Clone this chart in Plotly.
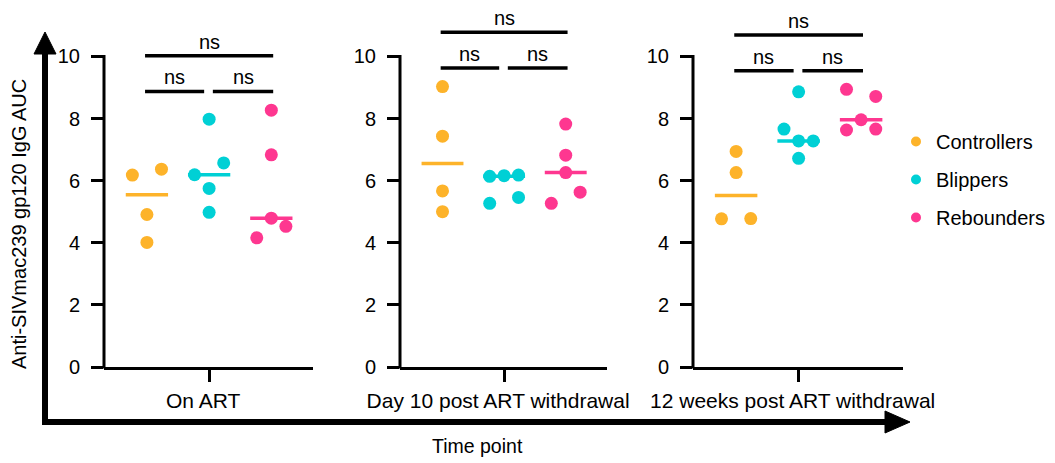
import numpy as np
import plotly.graph_objects as go

W, H = 1055, 463

# ---------------- data ----------------
groups = ["Controllers", "Blippers", "Rebounders"]
timepoints = ["On ART", "Day 10 post ART withdrawal", "12 weeks post ART withdrawal"]

controllers_on_art = [6.18, 6.37, 4.91, 4.01]
blippers_on_art = [7.98, 6.19, 6.57, 5.75, 4.98]
rebounders_on_art = [8.27, 6.83, 4.79, 4.16, 4.53]

controllers_day10 = [9.03, 7.43, 5.67, 5.00]
blippers_day10 = [6.14, 6.16, 6.18, 5.27, 5.46]
rebounders_day10 = [7.82, 6.82, 6.26, 5.27, 5.63]

controllers_wk12 = [6.94, 6.26, 4.77, 4.78]
blippers_wk12 = [8.86, 7.66, 7.28, 7.28, 6.72]
rebounders_wk12 = [8.94, 8.71, 7.63, 7.96, 7.66]

panel_values = [
    [controllers_on_art, blippers_on_art, rebounders_on_art],
    [controllers_day10, blippers_day10, rebounders_day10],
    [controllers_wk12, blippers_wk12, rebounders_wk12],
]
comparison_labels = ["ns", "ns", "ns"]
y_ticks = [0, 2, 4, 6, 8, 10]
y_title = "Anti-SIVmac239 gp120 IgG AUC"
x_title = "Time point"

# ---------------- style / layout ----------------
colors = ["#FDB32A", "#00D0D5", "#FE3790"]
FONT = "Arial, Liberation Sans, sans-serif"
OFF = 8  # page body margin compensation (px)
panel_px = [(104, 313), (400, 607), (693, 903)]
y0_px, y10_px = 367.0, 56.4
ppu = (y0_px - y10_px) / 10.0
ymax = 11.5
top_px = y0_px - ymax * ppu
xr = [-0.69, 2.67]
step = 0.234       # swarm column step (category units)
row_thr = 0.40     # values closer than this share a swarm row
med_half = 0.34


def px2x(px):
    return (px - OFF) / W


def px2y(py):
    return (H - (py - OFF)) / H


ydom = [px2y(y0_px), min(1.0, px2y(top_px))]


def datay2paper(v):
    return ydom[0] + v / ymax * (ydom[1] - ydom[0])


def swarm_offsets(vals):
    vals = np.asarray(vals, dtype=float)
    order = np.argsort(vals, kind="stable")
    rows, cur = [], [order[0]]
    for idx in order[1:]:
        if vals[idx] - vals[cur[0]] < row_thr:
            cur.append(idx)
        else:
            rows.append(cur)
            cur = [idx]
    rows.append(cur)
    off = np.zeros(len(vals))
    for r in rows:
        r = sorted(r)
        n = len(r)
        if n % 2:
            pos = [k - (n - 1) / 2 for k in range(n)]
        else:
            pos = [k for k in range(-n // 2, 0)] + [k for k in range(1, n // 2 + 1)]
        for i, p in zip(r, pos):
            off[i] = p * step
    return off


fig = go.Figure()
shapes = []
annotations = []

for p, (tp, vals_list) in enumerate(zip(timepoints, panel_values)):
    n = p + 1
    xa = "x" if n == 1 else f"x{n}"
    ya = "y" if n == 1 else f"y{n}"
    for g, (grp, vals) in enumerate(zip(groups, vals_list)):
        med = float(np.median(vals))
        fig.add_trace(go.Scatter(
            x=[g - med_half, g + med_half], y=[med, med], mode="lines",
            line=dict(color=colors[g], width=3.5), xaxis=xa, yaxis=ya,
            showlegend=False, hoverinfo="skip"))
        fig.add_trace(go.Scatter(
            x=g + swarm_offsets(vals), y=vals, mode="markers",
            marker=dict(color=colors[g], size=13, line=dict(width=0)),
            xaxis=xa, yaxis=ya, showlegend=False, name=grp))
    fig.update_layout({
        f"xaxis{'' if n == 1 else n}": dict(
            domain=[px2x(panel_px[p][0]), px2x(panel_px[p][1])], range=xr,
            tickvals=[1], ticktext=[tp], ticks="outside", ticklen=12, tickwidth=3,
            tickcolor="black", showline=True, linewidth=3, linecolor="black",
            showgrid=False, zeroline=False, anchor=ya, fixedrange=True,
            automargin=False, ticklabelstandoff=1, ticklabelshift=-6,
            tickfont=dict(family=FONT, size=21, color="black")),
        f"yaxis{'' if n == 1 else n}": dict(
            domain=ydom, range=[0, ymax], tickvals=y_ticks, ticks="outside",
            ticklen=12, tickwidth=3, tickcolor="black", showline=False,
            showgrid=False, zeroline=False, anchor=xa, fixedrange=True,
            automargin=False, ticklabelstandoff=7,
            tickfont=dict(family=FONT, size=20, color="black")),
    })
    # y axis spine (stops at 10)
    shapes.append(dict(type="line", xref="paper", yref="paper",
                       x0=px2x(panel_px[p][0]), x1=px2x(panel_px[p][0]),
                       y0=datay2paper(0) - 1.5 / H, y1=datay2paper(10) + 1.5 / H,
                       line=dict(color="black", width=3)))
    # significance brackets
    vmax = max(max(v) for v in vals_list)
    low = vmax + 0.6
    high = low + 1.15
    for (a, b, lvl, lab) in [(-0.03, 0.92, low, comparison_labels[0]),
                             (1.06, 2.03, low, comparison_labels[1]),
                             (-0.03, 2.03, high, comparison_labels[2])]:
        shapes.append(dict(type="line", xref=xa, yref=ya, x0=a, x1=b, y0=lvl, y1=lvl,
                           line=dict(color="black", width=3.5)))
        annotations.append(dict(xref=xa, yref="paper", x=(a + b) / 2,
                                y=datay2paper(lvl + 0.47),
                                xanchor="center", yanchor="middle",
                                height=17, valign="middle", borderpad=0,
                                text=lab, showarrow=False,
                                font=dict(family=FONT, size=20, color="black")))

# legend-only dummy traces
for g, grp in enumerate(groups):
    fig.add_trace(go.Scatter(x=[None], y=[None], mode="markers", name=grp,
                             legendgroup=grp,
                             marker=dict(color=colors[g], size=10)))

# big arrows
sh = 6
shapes.append(dict(type="line", xref="paper", yref="paper",
                   x0=px2x(45), x1=px2x(45), y0=px2y(425), y1=px2y(52),
                   line=dict(color="black", width=sh)))
shapes.append(dict(type="line", xref="paper", yref="paper",
                   x0=px2x(42), x1=px2x(887), y0=px2y(422), y1=px2y(422),
                   line=dict(color="black", width=sh)))


def tri(pts):
    s = "M " + " L ".join(f"{px2x(x)},{px2y(y)}" for x, y in pts) + " Z"
    return dict(type="path", xref="paper", yref="paper", path=s,
                fillcolor="black", line=dict(color="black", width=1))


shapes.append(tri([(45, 32), (34, 54), (56, 54)]))
shapes.append(tri([(910, 422), (885, 411), (885, 433)]))

annotations.append(dict(xref="paper", yref="paper", x=px2x(19), y=px2y(224),
                        xanchor="center", yanchor="middle",
                        text=y_title, textangle=-90, showarrow=False,
                        font=dict(family=FONT, size=20, color="black")))
annotations.append(dict(xref="paper", yref="paper", x=px2x(477), y=px2y(446),
                        xanchor="center", yanchor="middle",
                        text=x_title, showarrow=False,
                        font=dict(family=FONT, size=19.5, color="black")))

fig.update_layout(
    width=W, height=H, margin=dict(l=0, r=0, t=0, b=0, autoexpand=False),
    paper_bgcolor="white", plot_bgcolor="white",
    shapes=shapes, annotations=annotations,
    legend=dict(x=px2x(896), y=px2y(122), xref="container", yref="container",
                xanchor="left", yanchor="top",
                tracegroupgap=9, font=dict(family=FONT, size=20, color="black"),
                bgcolor="rgba(0,0,0,0)", itemclick=False, itemdoubleclick=False),
    showlegend=True,
)

fig.write_html("out.html")
